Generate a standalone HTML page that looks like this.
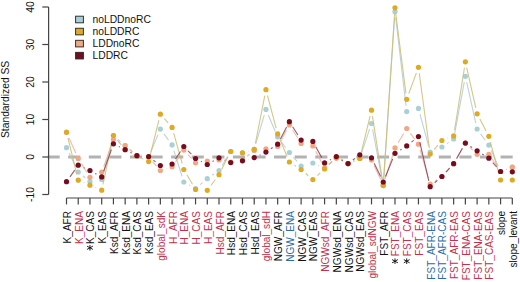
<!DOCTYPE html>
<html><head><meta charset="utf-8"><style>
html,body{margin:0;padding:0;background:#fff;}
body{width:520px;height:282px;overflow:hidden;position:relative;font-family:"Liberation Sans",sans-serif;}
svg text{font-family:"Liberation Sans",sans-serif;}
</style></head><body>
<svg width="520" height="282" viewBox="0 0 520 282" style="position:absolute;left:0;top:0">
<rect width="520" height="282" fill="#fff"/>
<line x1="47.6" y1="157" x2="520" y2="157" stroke="#B2B2B2" stroke-width="2.9" stroke-dasharray="12.1 8.49"/>
<path d="M69.11 153.10L75.62 166.60M82.88 175.80L85.32 177.80M103.24 173.70L111.88 141.40M118.01 139.47L120.57 141.63M129.69 149.44L132.36 151.76M150.95 151.47L158.03 134.63M163.93 133.92L168.51 140.08M173.89 150.62L182.01 176.28M189.06 184.91L190.30 185.59M200.15 184.65L202.67 182.55M212.22 175.29L214.07 174.01M222.15 165.49L227.60 156.61M248.24 151.13L248.44 151.07M255.89 143.64L264.25 115.16M268.28 114.92L275.32 131.48M281.29 141.78L285.78 147.72M293.34 157.03L297.20 161.47M306.94 164.51L307.05 164.49M318.30 165.55L319.16 165.95M328.88 164.30L332.04 161.20M341.56 159.94L342.83 160.66M353.53 161.13L354.32 160.77M361.71 152.61L369.60 129.19M372.63 129.40L382.14 179.70M383.66 179.61L394.58 17.69M395.68 17.66L406.02 105.64M412.50 110.02L412.66 109.98M420.01 114.19L428.62 146.21M435.70 149.65L436.39 149.35M446.87 143.62L448.68 142.38M454.75 133.10L464.27 82.20M466.68 82.16L475.80 123.14M480.64 133.85L485.30 140.25M491.27 150.58L498.13 166.02M506.20 169.44L506.67 169.26" stroke="#B2CBD0" stroke-width="1.1" fill="none" opacity="0.85"/>
<circle cx="66.50" cy="147.70" r="2.6" fill="#A9D0D6"/>
<circle cx="78.23" cy="172.00" r="2.6" fill="#A9D0D6"/>
<circle cx="89.96" cy="181.60" r="2.6" fill="#A9D0D6"/>
<circle cx="101.69" cy="179.50" r="2.6" fill="#A9D0D6"/>
<circle cx="113.43" cy="135.60" r="2.6" fill="#A9D0D6"/>
<circle cx="125.16" cy="145.50" r="2.6" fill="#A9D0D6"/>
<circle cx="136.89" cy="155.70" r="2.6" fill="#A9D0D6"/>
<circle cx="148.62" cy="157.00" r="2.6" fill="#A9D0D6"/>
<circle cx="160.35" cy="129.10" r="2.6" fill="#A9D0D6"/>
<circle cx="172.08" cy="144.90" r="2.6" fill="#A9D0D6"/>
<circle cx="183.82" cy="182.00" r="2.6" fill="#A9D0D6"/>
<circle cx="195.55" cy="188.50" r="2.6" fill="#A9D0D6"/>
<circle cx="207.28" cy="178.70" r="2.6" fill="#A9D0D6"/>
<circle cx="219.01" cy="170.60" r="2.6" fill="#A9D0D6"/>
<circle cx="230.74" cy="151.50" r="2.6" fill="#A9D0D6"/>
<circle cx="242.47" cy="152.80" r="2.6" fill="#A9D0D6"/>
<circle cx="254.21" cy="149.40" r="2.6" fill="#A9D0D6"/>
<circle cx="265.94" cy="109.40" r="2.6" fill="#A9D0D6"/>
<circle cx="277.67" cy="137.00" r="2.6" fill="#A9D0D6"/>
<circle cx="289.40" cy="152.50" r="2.6" fill="#A9D0D6"/>
<circle cx="301.13" cy="166.00" r="2.6" fill="#A9D0D6"/>
<circle cx="312.86" cy="163.00" r="2.6" fill="#A9D0D6"/>
<circle cx="324.59" cy="168.50" r="2.6" fill="#A9D0D6"/>
<circle cx="336.33" cy="157.00" r="2.6" fill="#A9D0D6"/>
<circle cx="348.06" cy="163.60" r="2.6" fill="#A9D0D6"/>
<circle cx="359.79" cy="158.30" r="2.6" fill="#A9D0D6"/>
<circle cx="371.52" cy="123.50" r="2.6" fill="#A9D0D6"/>
<circle cx="383.25" cy="185.60" r="2.6" fill="#A9D0D6"/>
<circle cx="394.98" cy="11.70" r="2.6" fill="#A9D0D6"/>
<circle cx="406.72" cy="111.60" r="2.6" fill="#A9D0D6"/>
<circle cx="418.45" cy="108.40" r="2.6" fill="#A9D0D6"/>
<circle cx="430.18" cy="152.00" r="2.6" fill="#A9D0D6"/>
<circle cx="441.91" cy="147.00" r="2.6" fill="#A9D0D6"/>
<circle cx="453.64" cy="139.00" r="2.6" fill="#A9D0D6"/>
<circle cx="465.37" cy="76.30" r="2.6" fill="#A9D0D6"/>
<circle cx="477.11" cy="129.00" r="2.6" fill="#A9D0D6"/>
<circle cx="488.84" cy="145.10" r="2.6" fill="#A9D0D6"/>
<circle cx="500.57" cy="171.50" r="2.6" fill="#A9D0D6"/>
<circle cx="512.30" cy="167.20" r="2.6" fill="#A9D0D6"/>
<path d="M68.97 137.97L75.76 153.03M81.41 163.59L86.79 172.21M95.45 174.87L96.21 174.53M103.73 166.45L111.39 145.15M118.77 142.23L119.82 142.77M129.63 149.50L132.42 152.00M152.56 161.53L156.42 165.97M166.07 168.70L166.36 168.60M175.53 161.89L180.37 155.01M187.89 154.51L191.48 158.39M247.14 156.22L249.54 154.28M280.54 141.13L286.53 130.17M292.61 129.97L297.92 138.33M315.68 151.20L321.78 162.70M329.22 164.18L331.70 162.12M341.79 160.77L342.59 161.13M353.53 161.13L354.32 160.77M374.07 165.43L380.70 179.57M385.06 179.28L393.18 153.62M398.09 142.77L403.61 133.63M410.31 133.31L414.86 139.39M420.14 149.96L428.48 178.24M435.23 180.77L436.86 179.73M445.96 172.08L449.59 168.12M456.62 158.49L462.39 148.41M469.73 147.32L472.75 150.18M492.22 159.26L497.19 166.54M506.20 169.44L506.67 169.26" stroke="#EDB09C" stroke-width="1.1" fill="none" opacity="0.85"/>
<circle cx="66.50" cy="132.50" r="2.6" fill="#F4A582"/>
<circle cx="78.23" cy="158.50" r="2.6" fill="#F4A582"/>
<circle cx="89.96" cy="177.30" r="2.6" fill="#F4A582"/>
<circle cx="101.69" cy="172.10" r="2.6" fill="#F4A582"/>
<circle cx="113.43" cy="139.50" r="2.6" fill="#F4A582"/>
<circle cx="125.16" cy="145.50" r="2.6" fill="#F4A582"/>
<circle cx="136.89" cy="156.00" r="2.6" fill="#F4A582"/>
<circle cx="148.62" cy="157.00" r="2.6" fill="#F4A582"/>
<circle cx="160.35" cy="170.50" r="2.6" fill="#F4A582"/>
<circle cx="172.08" cy="166.80" r="2.6" fill="#F4A582"/>
<circle cx="183.82" cy="150.10" r="2.6" fill="#F4A582"/>
<circle cx="195.55" cy="162.80" r="2.6" fill="#F4A582"/>
<circle cx="207.28" cy="161.00" r="2.6" fill="#F4A582"/>
<circle cx="219.01" cy="160.00" r="2.6" fill="#F4A582"/>
<circle cx="230.74" cy="162.00" r="2.6" fill="#F4A582"/>
<circle cx="242.47" cy="160.00" r="2.6" fill="#F4A582"/>
<circle cx="254.21" cy="150.50" r="2.6" fill="#F4A582"/>
<circle cx="265.94" cy="148.80" r="2.6" fill="#F4A582"/>
<circle cx="277.67" cy="146.40" r="2.6" fill="#F4A582"/>
<circle cx="289.40" cy="124.90" r="2.6" fill="#F4A582"/>
<circle cx="301.13" cy="143.40" r="2.6" fill="#F4A582"/>
<circle cx="312.86" cy="145.90" r="2.6" fill="#F4A582"/>
<circle cx="324.59" cy="168.00" r="2.6" fill="#F4A582"/>
<circle cx="336.33" cy="158.30" r="2.6" fill="#F4A582"/>
<circle cx="348.06" cy="163.60" r="2.6" fill="#F4A582"/>
<circle cx="359.79" cy="158.30" r="2.6" fill="#F4A582"/>
<circle cx="371.52" cy="160.00" r="2.6" fill="#F4A582"/>
<circle cx="383.25" cy="185.00" r="2.6" fill="#F4A582"/>
<circle cx="394.98" cy="147.90" r="2.6" fill="#F4A582"/>
<circle cx="406.72" cy="128.50" r="2.6" fill="#F4A582"/>
<circle cx="418.45" cy="144.20" r="2.6" fill="#F4A582"/>
<circle cx="430.18" cy="184.00" r="2.6" fill="#F4A582"/>
<circle cx="441.91" cy="176.50" r="2.6" fill="#F4A582"/>
<circle cx="453.64" cy="163.70" r="2.6" fill="#F4A582"/>
<circle cx="465.37" cy="143.20" r="2.6" fill="#F4A582"/>
<circle cx="477.11" cy="154.30" r="2.6" fill="#F4A582"/>
<circle cx="488.84" cy="154.30" r="2.6" fill="#F4A582"/>
<circle cx="500.57" cy="171.50" r="2.6" fill="#F4A582"/>
<circle cx="512.30" cy="167.20" r="2.6" fill="#F4A582"/>
<path d="M67.92 137.93L76.81 174.37M83.75 182.55L84.44 182.85M95.48 187.55L96.18 187.85M102.96 184.33L112.17 141.47M117.30 140.19L121.29 144.91M130.46 152.30L131.58 152.90M142.25 158.40L143.26 158.90M150.06 155.78L158.91 120.02M164.34 118.68L168.10 122.92M173.69 133.18L182.21 163.72M186.86 174.67L192.50 184.23M210.89 185.50L215.40 179.50M221.72 169.35L228.03 156.85M248.24 151.13L248.44 151.07M255.36 143.51L264.78 95.59M267.48 95.50L276.13 128.10M279.98 139.44L287.09 156.46M294.44 165.26L296.10 166.34M305.70 173.49L308.30 175.71M317.30 175.56L320.16 172.94M328.90 164.72L332.02 161.68M341.65 160.27L342.73 160.83M353.56 161.21L354.29 160.89M361.21 152.67L370.10 116.03M372.44 116.13L382.33 179.67M383.65 179.61L394.59 13.79M395.75 13.75L405.95 93.35M408.78 93.67L416.38 72.93M419.25 73.25L429.37 148.05M434.11 149.47L437.97 145.03M447.50 138.31L448.06 138.09M454.58 129.97L464.44 67.73M466.69 67.65L475.78 107.95M479.88 119.12L486.06 130.98M490.39 142.09L499.01 174.21" stroke="#CDBD72" stroke-width="1.1" fill="none" opacity="0.85"/>
<circle cx="66.50" cy="132.10" r="2.6" fill="#DDAA22"/>
<circle cx="78.23" cy="180.20" r="2.6" fill="#DDAA22"/>
<circle cx="89.96" cy="185.20" r="2.6" fill="#DDAA22"/>
<circle cx="101.69" cy="190.20" r="2.6" fill="#DDAA22"/>
<circle cx="113.43" cy="135.60" r="2.6" fill="#DDAA22"/>
<circle cx="125.16" cy="149.50" r="2.6" fill="#DDAA22"/>
<circle cx="136.89" cy="155.70" r="2.6" fill="#DDAA22"/>
<circle cx="148.62" cy="161.60" r="2.6" fill="#DDAA22"/>
<circle cx="160.35" cy="114.20" r="2.6" fill="#DDAA22"/>
<circle cx="172.08" cy="127.40" r="2.6" fill="#DDAA22"/>
<circle cx="183.82" cy="169.50" r="2.6" fill="#DDAA22"/>
<circle cx="195.55" cy="189.40" r="2.6" fill="#DDAA22"/>
<circle cx="207.28" cy="190.30" r="2.6" fill="#DDAA22"/>
<circle cx="219.01" cy="174.70" r="2.6" fill="#DDAA22"/>
<circle cx="230.74" cy="151.50" r="2.6" fill="#DDAA22"/>
<circle cx="242.47" cy="152.80" r="2.6" fill="#DDAA22"/>
<circle cx="254.21" cy="149.40" r="2.6" fill="#DDAA22"/>
<circle cx="265.94" cy="89.70" r="2.6" fill="#DDAA22"/>
<circle cx="277.67" cy="133.90" r="2.6" fill="#DDAA22"/>
<circle cx="289.40" cy="162.00" r="2.6" fill="#DDAA22"/>
<circle cx="301.13" cy="169.60" r="2.6" fill="#DDAA22"/>
<circle cx="312.86" cy="179.60" r="2.6" fill="#DDAA22"/>
<circle cx="324.59" cy="168.90" r="2.6" fill="#DDAA22"/>
<circle cx="336.33" cy="157.50" r="2.6" fill="#DDAA22"/>
<circle cx="348.06" cy="163.60" r="2.6" fill="#DDAA22"/>
<circle cx="359.79" cy="158.50" r="2.6" fill="#DDAA22"/>
<circle cx="371.52" cy="110.20" r="2.6" fill="#DDAA22"/>
<circle cx="383.25" cy="185.60" r="2.6" fill="#DDAA22"/>
<circle cx="394.98" cy="7.80" r="2.6" fill="#DDAA22"/>
<circle cx="406.72" cy="99.30" r="2.6" fill="#DDAA22"/>
<circle cx="418.45" cy="67.30" r="2.6" fill="#DDAA22"/>
<circle cx="430.18" cy="154.00" r="2.6" fill="#DDAA22"/>
<circle cx="441.91" cy="140.50" r="2.6" fill="#DDAA22"/>
<circle cx="453.64" cy="135.90" r="2.6" fill="#DDAA22"/>
<circle cx="465.37" cy="61.80" r="2.6" fill="#DDAA22"/>
<circle cx="477.11" cy="113.80" r="2.6" fill="#DDAA22"/>
<circle cx="488.84" cy="136.30" r="2.6" fill="#DDAA22"/>
<circle cx="500.57" cy="180.00" r="2.6" fill="#DDAA22"/>
<circle cx="512.30" cy="180.00" r="2.6" fill="#DDAA22"/>
<path d="M69.98 176.81L74.75 170.09M83.70 167.67L84.50 168.03M95.23 173.37L96.43 174.03M103.70 171.24L111.42 149.46M118.79 146.50L119.80 147.00M130.50 152.43L131.55 152.97M153.38 160.15L155.59 161.85M175.43 159.02L180.47 151.48M188.01 150.79L191.35 154.21M200.89 161.23L201.94 161.77M212.49 161.52L213.80 160.78M224.56 160.07L225.19 160.33M248.26 159.22L248.42 159.18M259.64 155.05L260.50 154.65M270.91 148.75L272.69 147.55M280.44 138.88L286.63 127.02M292.63 126.76L297.91 135.04M315.74 146.67L321.72 157.63M329.88 160.06L331.04 159.44M341.48 159.67L342.91 160.53M352.86 160.00L354.99 158.40M365.60 156.29L365.71 156.31M374.14 163.20L380.64 176.60M385.52 176.45L392.71 158.85M400.06 150.10L401.64 149.10M411.42 142.17L413.75 140.33M419.82 142.44L428.81 180.86M434.71 182.76L437.38 180.44M445.96 172.08L449.59 168.12M456.61 158.49L462.40 148.31M470.39 146.39L472.09 147.51M482.18 154.00L483.76 155.00M492.81 162.70L496.60 167.00" stroke="#8A4052" stroke-width="1.1" fill="none" opacity="0.85"/>
<circle cx="66.50" cy="181.70" r="2.6" fill="#760C1E"/>
<circle cx="78.23" cy="165.20" r="2.6" fill="#760C1E"/>
<circle cx="89.96" cy="170.50" r="2.6" fill="#760C1E"/>
<circle cx="101.69" cy="176.90" r="2.6" fill="#760C1E"/>
<circle cx="113.43" cy="143.80" r="2.6" fill="#760C1E"/>
<circle cx="125.16" cy="149.70" r="2.6" fill="#760C1E"/>
<circle cx="136.89" cy="155.70" r="2.6" fill="#760C1E"/>
<circle cx="148.62" cy="156.50" r="2.6" fill="#760C1E"/>
<circle cx="160.35" cy="165.50" r="2.6" fill="#760C1E"/>
<circle cx="172.08" cy="164.00" r="2.6" fill="#760C1E"/>
<circle cx="183.82" cy="146.50" r="2.6" fill="#760C1E"/>
<circle cx="195.55" cy="158.50" r="2.6" fill="#760C1E"/>
<circle cx="207.28" cy="164.50" r="2.6" fill="#760C1E"/>
<circle cx="219.01" cy="157.80" r="2.6" fill="#760C1E"/>
<circle cx="230.74" cy="162.60" r="2.6" fill="#760C1E"/>
<circle cx="242.47" cy="160.80" r="2.6" fill="#760C1E"/>
<circle cx="254.21" cy="157.60" r="2.6" fill="#760C1E"/>
<circle cx="265.94" cy="152.10" r="2.6" fill="#760C1E"/>
<circle cx="277.67" cy="144.20" r="2.6" fill="#760C1E"/>
<circle cx="289.40" cy="121.70" r="2.6" fill="#760C1E"/>
<circle cx="301.13" cy="140.10" r="2.6" fill="#760C1E"/>
<circle cx="312.86" cy="141.40" r="2.6" fill="#760C1E"/>
<circle cx="324.59" cy="162.90" r="2.6" fill="#760C1E"/>
<circle cx="336.33" cy="156.60" r="2.6" fill="#760C1E"/>
<circle cx="348.06" cy="163.60" r="2.6" fill="#760C1E"/>
<circle cx="359.79" cy="154.80" r="2.6" fill="#760C1E"/>
<circle cx="371.52" cy="157.80" r="2.6" fill="#760C1E"/>
<circle cx="383.25" cy="182.00" r="2.6" fill="#760C1E"/>
<circle cx="394.98" cy="153.30" r="2.6" fill="#760C1E"/>
<circle cx="406.72" cy="145.90" r="2.6" fill="#760C1E"/>
<circle cx="418.45" cy="136.60" r="2.6" fill="#760C1E"/>
<circle cx="430.18" cy="186.70" r="2.6" fill="#760C1E"/>
<circle cx="441.91" cy="176.50" r="2.6" fill="#760C1E"/>
<circle cx="453.64" cy="163.70" r="2.6" fill="#760C1E"/>
<circle cx="465.37" cy="143.10" r="2.6" fill="#760C1E"/>
<circle cx="477.11" cy="150.80" r="2.6" fill="#760C1E"/>
<circle cx="488.84" cy="158.20" r="2.6" fill="#760C1E"/>
<circle cx="500.57" cy="171.50" r="2.6" fill="#760C1E"/>
<circle cx="512.30" cy="171.80" r="2.6" fill="#760C1E"/>
<path d="M48.6 7V194.5" stroke="#444" stroke-width="1.2" fill="none"/>
<path d="M42.3 7.00H48.6" stroke="#444" stroke-width="1.2"/>
<text transform="translate(33.7 7.00) rotate(-90)" text-anchor="middle" font-size="10.3" fill="#111">40</text>
<path d="M42.3 44.50H48.6" stroke="#444" stroke-width="1.2"/>
<text transform="translate(33.7 44.50) rotate(-90)" text-anchor="middle" font-size="10.3" fill="#111">30</text>
<path d="M42.3 82.00H48.6" stroke="#444" stroke-width="1.2"/>
<text transform="translate(33.7 82.00) rotate(-90)" text-anchor="middle" font-size="10.3" fill="#111">20</text>
<path d="M42.3 119.50H48.6" stroke="#444" stroke-width="1.2"/>
<text transform="translate(33.7 119.50) rotate(-90)" text-anchor="middle" font-size="10.3" fill="#111">10</text>
<path d="M42.3 157.00H48.6" stroke="#444" stroke-width="1.2"/>
<text transform="translate(33.7 157.00) rotate(-90)" text-anchor="middle" font-size="10.3" fill="#111">0</text>
<path d="M42.3 194.50H48.6" stroke="#444" stroke-width="1.2"/>
<text transform="translate(33.7 194.50) rotate(-90)" text-anchor="middle" font-size="10.3" fill="#111">-10</text>
<text transform="translate(9.2 99.4) rotate(-90)" text-anchor="middle" font-size="10.3" fill="#111">Standardized SS</text>
<path d="M66.50 198.0H512.30" stroke="#444" stroke-width="1.2"/>
<path d="M66.50 198.0V204.4" stroke="#444" stroke-width="1.2"/>
<text transform="translate(71.00 211.0) rotate(-90)" text-anchor="end" font-size="10.05" fill="#111111">K_AFR</text>
<path d="M78.23 198.0V204.4" stroke="#444" stroke-width="1.2"/>
<text transform="translate(82.73 211.0) rotate(-90)" text-anchor="end" font-size="10.05" fill="#C2304A">K_ENA</text>
<path d="M89.96 198.0V204.4" stroke="#444" stroke-width="1.2"/>
<text transform="translate(94.46 211.0) rotate(-90)" text-anchor="end" font-size="10.05" fill="#111111">K_CAS</text>
<path d="M89.96 245.00V250.60M87.06 246.20L92.86 249.40M87.06 249.40L92.86 246.20" stroke="#111" stroke-width="0.95" fill="none"/>
<path d="M101.69 198.0V204.4" stroke="#444" stroke-width="1.2"/>
<text transform="translate(106.19 211.0) rotate(-90)" text-anchor="end" font-size="10.05" fill="#111111">K_EAS</text>
<path d="M113.43 198.0V204.4" stroke="#444" stroke-width="1.2"/>
<text transform="translate(117.93 211.0) rotate(-90)" text-anchor="end" font-size="10.05" fill="#111111">Ksd_AFR</text>
<path d="M125.16 198.0V204.4" stroke="#444" stroke-width="1.2"/>
<text transform="translate(129.66 211.0) rotate(-90)" text-anchor="end" font-size="10.05" fill="#111111">Ksd_ENA</text>
<path d="M136.89 198.0V204.4" stroke="#444" stroke-width="1.2"/>
<text transform="translate(141.39 211.0) rotate(-90)" text-anchor="end" font-size="10.05" fill="#111111">Ksd_CAS</text>
<path d="M148.62 198.0V204.4" stroke="#444" stroke-width="1.2"/>
<text transform="translate(153.12 211.0) rotate(-90)" text-anchor="end" font-size="10.05" fill="#111111">Ksd_EAS</text>
<path d="M160.35 198.0V204.4" stroke="#444" stroke-width="1.2"/>
<text transform="translate(164.85 211.0) rotate(-90)" text-anchor="end" font-size="10.05" fill="#C2304A">global_sdK</text>
<path d="M172.08 198.0V204.4" stroke="#444" stroke-width="1.2"/>
<text transform="translate(176.58 211.0) rotate(-90)" text-anchor="end" font-size="10.05" fill="#C2304A">H_AFR</text>
<path d="M183.82 198.0V204.4" stroke="#444" stroke-width="1.2"/>
<text transform="translate(188.32 211.0) rotate(-90)" text-anchor="end" font-size="10.05" fill="#C2304A">H_ENA</text>
<path d="M195.55 198.0V204.4" stroke="#444" stroke-width="1.2"/>
<text transform="translate(200.05 211.0) rotate(-90)" text-anchor="end" font-size="10.05" fill="#C2304A">H_CAS</text>
<path d="M207.28 198.0V204.4" stroke="#444" stroke-width="1.2"/>
<text transform="translate(211.78 211.0) rotate(-90)" text-anchor="end" font-size="10.05" fill="#C2304A">H_EAS</text>
<path d="M219.01 198.0V204.4" stroke="#444" stroke-width="1.2"/>
<text transform="translate(223.51 211.0) rotate(-90)" text-anchor="end" font-size="10.05" fill="#C2304A">Hsd_AFR</text>
<path d="M230.74 198.0V204.4" stroke="#444" stroke-width="1.2"/>
<text transform="translate(235.24 211.0) rotate(-90)" text-anchor="end" font-size="10.05" fill="#111111">Hsd_ENA</text>
<path d="M242.47 198.0V204.4" stroke="#444" stroke-width="1.2"/>
<text transform="translate(246.97 211.0) rotate(-90)" text-anchor="end" font-size="10.05" fill="#111111">Hsd_CAS</text>
<path d="M254.21 198.0V204.4" stroke="#444" stroke-width="1.2"/>
<text transform="translate(258.71 211.0) rotate(-90)" text-anchor="end" font-size="10.05" fill="#111111">Hsd_EAS</text>
<path d="M265.94 198.0V204.4" stroke="#444" stroke-width="1.2"/>
<text transform="translate(270.44 211.0) rotate(-90)" text-anchor="end" font-size="10.05" fill="#C2304A">global_sdH</text>
<path d="M277.67 198.0V204.4" stroke="#444" stroke-width="1.2"/>
<text transform="translate(282.17 211.0) rotate(-90)" text-anchor="end" font-size="10.05" fill="#111111">NGW_AFR</text>
<path d="M289.40 198.0V204.4" stroke="#444" stroke-width="1.2"/>
<text transform="translate(293.90 211.0) rotate(-90)" text-anchor="end" font-size="10.05" fill="#2A6CA6">NGW_ENA</text>
<path d="M301.13 198.0V204.4" stroke="#444" stroke-width="1.2"/>
<text transform="translate(305.63 211.0) rotate(-90)" text-anchor="end" font-size="10.05" fill="#111111">NGW_CAS</text>
<path d="M312.86 198.0V204.4" stroke="#444" stroke-width="1.2"/>
<text transform="translate(317.36 211.0) rotate(-90)" text-anchor="end" font-size="10.05" fill="#111111">NGW_EAS</text>
<path d="M324.59 198.0V204.4" stroke="#444" stroke-width="1.2"/>
<text transform="translate(329.09 211.0) rotate(-90)" text-anchor="end" font-size="10.05" fill="#C2304A">NGWsd_AFR</text>
<path d="M336.33 198.0V204.4" stroke="#444" stroke-width="1.2"/>
<text transform="translate(340.83 211.0) rotate(-90)" text-anchor="end" font-size="10.05" fill="#111111">NGWsd_ENA</text>
<path d="M348.06 198.0V204.4" stroke="#444" stroke-width="1.2"/>
<text transform="translate(352.56 211.0) rotate(-90)" text-anchor="end" font-size="10.05" fill="#111111">NGWsd_CAS</text>
<path d="M359.79 198.0V204.4" stroke="#444" stroke-width="1.2"/>
<text transform="translate(364.29 211.0) rotate(-90)" text-anchor="end" font-size="10.05" fill="#111111">NGWsd_EAS</text>
<path d="M371.52 198.0V204.4" stroke="#444" stroke-width="1.2"/>
<text transform="translate(376.02 211.0) rotate(-90)" text-anchor="end" font-size="10.05" fill="#C2304A">global_sdNGW</text>
<path d="M383.25 198.0V204.4" stroke="#444" stroke-width="1.2"/>
<text transform="translate(387.75 211.0) rotate(-90)" text-anchor="end" font-size="10.05" fill="#111111">FST_AFR</text>
<path d="M394.98 198.0V204.4" stroke="#444" stroke-width="1.2"/>
<text transform="translate(399.48 211.0) rotate(-90)" text-anchor="end" font-size="10.05" fill="#C2304A">FST_ENA</text>
<path d="M394.98 258.40V264.00M392.08 259.60L397.88 262.80M392.08 262.80L397.88 259.60" stroke="#111" stroke-width="0.95" fill="none"/>
<path d="M406.72 198.0V204.4" stroke="#444" stroke-width="1.2"/>
<text transform="translate(411.22 211.0) rotate(-90)" text-anchor="end" font-size="10.05" fill="#C2304A">FST_CAS</text>
<path d="M406.72 258.40V264.00M403.82 259.60L409.62 262.80M403.82 262.80L409.62 259.60" stroke="#111" stroke-width="0.95" fill="none"/>
<path d="M418.45 198.0V204.4" stroke="#444" stroke-width="1.2"/>
<text transform="translate(422.95 211.0) rotate(-90)" text-anchor="end" font-size="10.05" fill="#C2304A">FST_EAS</text>
<path d="M430.18 198.0V204.4" stroke="#444" stroke-width="1.2"/>
<text transform="translate(434.68 211.0) rotate(-90)" text-anchor="end" font-size="10.05" fill="#2A6CA6">FST_AFR-ENA</text>
<path d="M441.91 198.0V204.4" stroke="#444" stroke-width="1.2"/>
<text transform="translate(446.41 211.0) rotate(-90)" text-anchor="end" font-size="10.05" fill="#2A6CA6">FST_AFR-CAS</text>
<path d="M453.64 198.0V204.4" stroke="#444" stroke-width="1.2"/>
<text transform="translate(458.14 211.0) rotate(-90)" text-anchor="end" font-size="10.05" fill="#C2304A">FST_AFR-EAS</text>
<path d="M465.37 198.0V204.4" stroke="#444" stroke-width="1.2"/>
<text transform="translate(469.87 211.0) rotate(-90)" text-anchor="end" font-size="10.05" fill="#C2304A">FST_ENA-CAS</text>
<path d="M477.11 198.0V204.4" stroke="#444" stroke-width="1.2"/>
<text transform="translate(481.61 211.0) rotate(-90)" text-anchor="end" font-size="10.05" fill="#C2304A">FST_ENA-EAS</text>
<path d="M488.84 198.0V204.4" stroke="#444" stroke-width="1.2"/>
<text transform="translate(493.34 211.0) rotate(-90)" text-anchor="end" font-size="10.05" fill="#C2304A">FST_CAS-EAS</text>
<path d="M500.57 198.0V204.4" stroke="#444" stroke-width="1.2"/>
<text transform="translate(505.07 211.0) rotate(-90)" text-anchor="end" font-size="10.05" fill="#111111">slope</text>
<path d="M512.30 198.0V204.4" stroke="#444" stroke-width="1.2"/>
<text transform="translate(516.80 211.0) rotate(-90)" text-anchor="end" font-size="10.05" fill="#111111">slope_levant</text>
<rect x="75.6" y="16.20" width="7.8" height="6.6" fill="#A9D0D6" stroke="#2a2a2a" stroke-width="0.95"/>
<text x="92.5" y="23.10" font-size="10.3" fill="#111">noLDDnoRC</text>
<rect x="75.6" y="28.25" width="7.8" height="6.6" fill="#DDAA22" stroke="#2a2a2a" stroke-width="0.95"/>
<text x="92.5" y="35.15" font-size="10.3" fill="#111">noLDDRC</text>
<rect x="75.6" y="40.30" width="7.8" height="6.6" fill="#F4A582" stroke="#2a2a2a" stroke-width="0.95"/>
<text x="92.5" y="47.20" font-size="10.3" fill="#111">LDDnoRC</text>
<rect x="75.6" y="52.35" width="7.8" height="6.6" fill="#760C1E" stroke="#2a2a2a" stroke-width="0.95"/>
<text x="92.5" y="59.25" font-size="10.3" fill="#111">LDDRC</text>
</svg>
</body></html>
